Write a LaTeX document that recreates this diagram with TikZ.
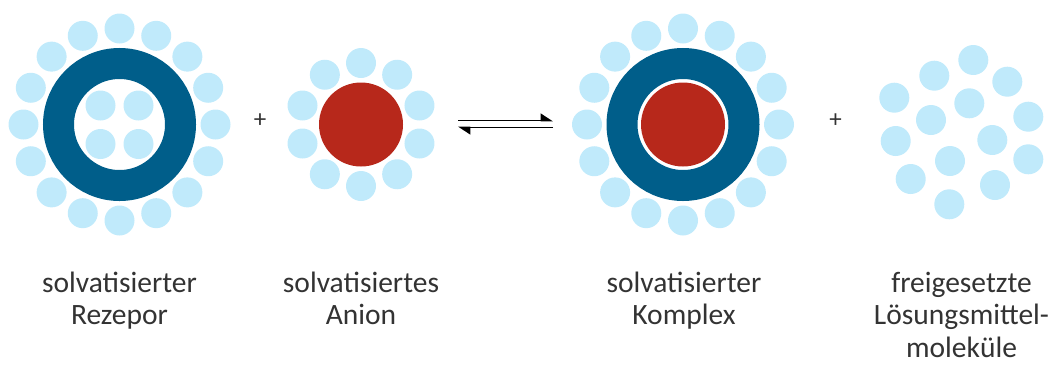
\documentclass[tikz,border=0pt]{standalone}
\usepackage{fontspec}
\setmainfont{Carlito}
\usetikzlibrary{arrows.meta,calc}
\definecolor{solvent}{RGB}{192,234,251}
\definecolor{hostblue}{RGB}{0,94,138}
\definecolor{anionred}{RGB}{183,40,27}
\definecolor{txtgray}{RGB}{51,51,51}
\begin{document}
\begin{tikzpicture}[x=1pt,y=-1pt,
  solv/.style={circle,fill=solvent,minimum size=30pt,inner sep=0pt,outer sep=0pt},
  hostring/.style={circle,draw=hostblue,line width=31pt,minimum size=122pt,inner sep=0pt,outer sep=0pt},
  anion/.style={circle,fill=anionred,minimum size=84pt,inner sep=0pt,outer sep=0pt},
  % multi-line captions: the base anchor sits on the last line
  label/.style={align=center,text=txtgray,inner sep=0pt,anchor=base,
    font=\fontsize{29.5}{32.5}\selectfont},
  plus/.style={text=txtgray,inner sep=0pt,font=\fontsize{25}{27}\selectfont},
  eqline/.style={line width=1.8pt,-{Triangle[harpoon,length=11pt,width=14pt]}}]
\useasboundingbox (0,0) rectangle (1053,365);

% solvated receptor
\node[hostring] (rec) at (119.5,124.5) {};
\foreach \k in {0,...,15}
  \node[solv] (rec-s\k) at ($(rec.center)+({90+22.5*\k}:-96)$) {};
\node[solv] (rec-i1) at (100.5,105.5) {};
\node[solv] (rec-i2) at (138.5,105.5) {};
\node[solv] (rec-i3) at (100.5,144) {};
\node[solv] (rec-i4) at (138.5,144) {};

% solvated anion
\node[anion] (an) at (361,124.5) {};
\foreach \k in {0,...,9}
  \node[solv] (an-s\k) at ($(an.center)+({90+36*\k}:-61.5)$) {};

% equilibrium arrows
\coordinate (eqL1) at (458,120.5);
\coordinate (eqR1) at (553,120.5);
\coordinate (eqL2) at (458,127.5);
\coordinate (eqR2) at (553,127.5);
\draw[eqline] (eqL1) -- (eqR1);
\draw[eqline] (eqR2) -- (eqL2);

% solvated complex
\node[hostring] (cx) at (683,124.5) {};
\node[anion] (cx-an) at (683,124.5) {};
\foreach \k in {0,...,15}
  \node[solv] (cx-s\k) at ($(cx.center)+({90+22.5*\k}:-96)$) {};

% released solvent molecules
\foreach \n/\x/\y in {1/973.3/60, 2/934.3/75.7, 3/1007.3/81.7, 4/894.3/97.7,
    5/969.3/103.3, 6/1028.3/116.7, 7/931/120, 8/895.7/141, 9/992.3/140,
    10/950/161, 11/1028.3/159.3, 12/910.7/179, 13/995/185, 14/949.3/204.3}
  \node[solv] (free-\n) at (\x,\y) {};

% plus signs
\node[plus] (plus1) at (260,121) {+};
\node[plus] (plus2) at (835.5,121) {+};

% captions
\node[label] (lab-rec) at (119.5,324.5) {solvatisierter\\Rezepor};
\node[label] (lab-an) at (361,324.5) {solvatisiertes\\Anion};
\node[label] (lab-cx) at (684,324.5) {solvatisierter\\Komplex};
\node[label] (lab-free) at (961.5,357) {freigesetzte\\Lösungsmittel-\\moleküle};
\end{tikzpicture}
\end{document}
